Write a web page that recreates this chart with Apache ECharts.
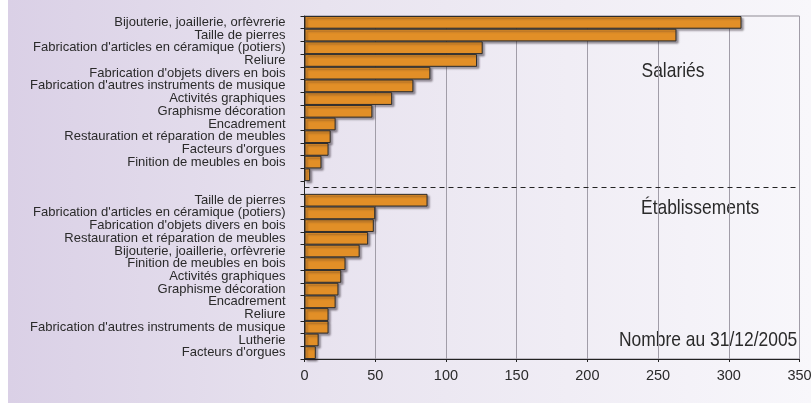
<!DOCTYPE html>
<html>
<head>
<meta charset="utf-8">
<script src="https://cdn.jsdelivr.net/npm/echarts@6/dist/echarts.min.js"></script>
<style>
  html, body { margin: 0; padding: 0; background: #ffffff; }
  #chart { width: 811px; height: 403px; }
</style>
</head>
<body>
<div id="chart"></div>
<script>
// --- Data ---
var salariesCategories = [
  "Bijouterie, joaillerie, orfèvrerie",
  "Taille de pierres",
  "Fabrication d'articles en céramique (potiers)",
  "Reliure",
  "Fabrication d'objets divers en bois",
  "Fabrication d'autres instruments de musique",
  "Activités graphiques",
  "Graphisme décoration",
  "Encadrement",
  "Restauration et réparation de meubles",
  "Facteurs d'orgues",
  "Finition de meubles en bois",
  ""
];
var salariesValues = [309, 263, 126, 122, 89, 77, 62, 48, 22, 18.5, 17, 12, 4];

var etablissementsCategories = [
  "Taille de pierres",
  "Fabrication d'articles en céramique (potiers)",
  "Fabrication d'objets divers en bois",
  "Restauration et réparation de meubles",
  "Bijouterie, joaillerie, orfèvrerie",
  "Finition de meubles en bois",
  "Activités graphiques",
  "Graphisme décoration",
  "Encadrement",
  "Reliure",
  "Fabrication d'autres instruments de musique",
  "Lutherie",
  "Facteurs d'orgues"
];
var etablissementsValues = [87, 50, 49, 45, 39, 29, 26, 24, 22, 17, 17, 10, 8];

var xTicks = { min: 0, max: 350, interval: 50 };
var sectionTitles = ["Salariés", "Établissements"];
var noteText = "Nombre au 31/12/2005";

// --- Build combined category axis with a blank separator band ---
var separatorIndex = salariesCategories.length;
var categories = salariesCategories.concat([""], etablissementsCategories);
var values = salariesValues.concat([null], etablissementsValues);

var FONT = "'Liberation Sans', Arial, sans-serif";

var chart = echarts.init(document.getElementById('chart'), null, { renderer: 'canvas' });
chart.setOption({
  animation: false,
  backgroundColor: {
    type: 'linear', x: 0, y: 0, x2: 1, y2: 0,
    colorStops: [
      { offset: 0, color: '#ffffff' },
      { offset: 0.0098, color: '#ffffff' },
      { offset: 0.0099, color: '#dad0e6' },
      { offset: 0.4, color: '#e8e3ef' },
      { offset: 1, color: '#f8f7fb' }
    ]
  },
  grid: {
    left: 304.5, right: 11.5, top: 16, bottom: 44,
    show: true, borderColor: '#8f8b94', borderWidth: 1,
    backgroundColor: 'transparent',
    outerBoundsMode: 'none',
    containLabel: false
  },
  xAxis: {
    type: 'value',
    min: xTicks.min, max: xTicks.max, interval: xTicks.interval,
    axisLine: { show: true, lineStyle: { color: '#222', width: 1 } },
    axisTick: { show: true, length: 3, lineStyle: { color: '#222' } },
    axisLabel: { fontFamily: FONT, fontSize: 14.5, color: '#2a2a2a', margin: 9 },
    splitLine: { show: true, lineStyle: { color: '#a19da8', width: 1 } }
  },
  yAxis: {
    type: 'category',
    inverse: true,
    data: categories,
    boundaryGap: true,
    axisLine: { show: true, lineStyle: { color: '#222', width: 1 } },
    axisTick: { show: true, length: 4, lineStyle: { color: '#222' } },
    axisLabel: {
      interval: 0, fontFamily: FONT, fontSize: 13, color: '#2a2a2a',
      margin: 19, lineHeight: 13, padding: [3, 0, 0, 0]
    },
    splitLine: { show: false }
  },
  series: [{
    type: 'bar',
    data: values,
    barCategoryGap: '0%',
    itemStyle: {
      color: '#e28f27',
      borderColor: '#2b2b2b',
      borderWidth: 1,
      shadowColor: 'rgba(40,30,40,0.45)',
      shadowBlur: 2,
      shadowOffsetX: 2,
      shadowOffsetY: 2
    },
    markLine: {
      silent: true,
      symbol: ['none', 'none'],
      label: { show: false },
      lineStyle: { color: '#222', type: [5, 4], width: 1 },
      data: [{ yAxis: separatorIndex }]
    }
  }],
  graphic: [
    { type: 'text', x: 641.5, y: 61, scaleX: 0.83, silent: true,
      style: { text: sectionTitles[0], font: "21px " + FONT, fill: '#2a2a2a' } },
    { type: 'text', x: 641, y: 198, scaleX: 0.83, silent: true,
      style: { text: sectionTitles[1], font: "21px " + FONT, fill: '#2a2a2a' } },
    { type: 'text', x: 619, y: 330, scaleX: 0.83, silent: true,
      style: { text: noteText, font: "21px " + FONT, fill: '#2a2a2a' } }
  ]
});
</script>
</body>
</html>
